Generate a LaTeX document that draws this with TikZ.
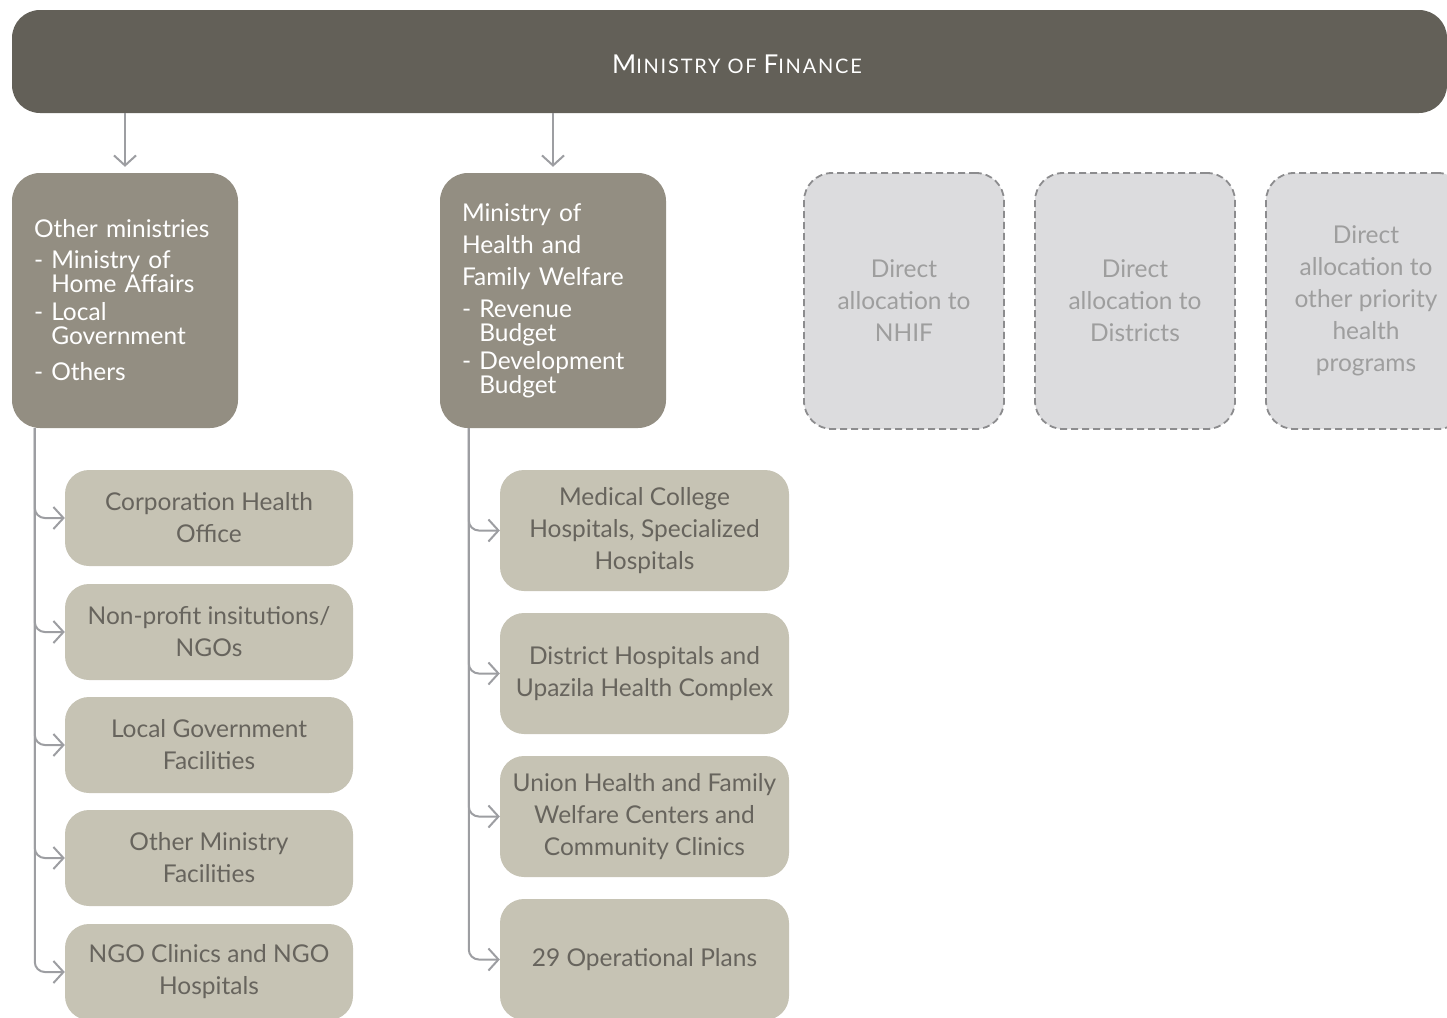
\documentclass[tikz,border=0pt]{standalone}
\usepackage{fontspec}
\setmainfont{Lato}
\newfontfamily\titlefont{Lato}[LetterSpace=9]
\usetikzlibrary{arrows.meta}

\definecolor{barcol}{HTML}{636058}
\definecolor{midcol}{HTML}{938E82}
\definecolor{leafcol}{HTML}{C6C3B4}
\definecolor{leaftext}{HTML}{67645D}
\definecolor{linecol}{HTML}{9D9EA2}
\definecolor{dashfill}{HTML}{DCDCDE}
\definecolor{dashline}{HTML}{8C8C8E}
\definecolor{dashtext}{HTML}{9E9E9E}

\newcommand{\hang}{\phantom{- }}

\tikzset{
  finance/.style={fill=barcol, text=white, rounded corners=28pt, minimum width=1435pt, minimum height=103pt, inner sep=0pt},
  ministry/.style={fill=midcol, text=white, rounded corners=28pt, minimum width=226pt, minimum height=255pt, text width=182pt, align=left, inner sep=0pt, font=\fontsize{24.5}{24}\selectfont},
  facility/.style={fill=leafcol, text=leaftext, rounded corners=24pt, inner sep=0pt, align=center, font=\fontsize{24.5}{32}\selectfont},
  direct/.style={fill=dashfill, draw=dashline, line width=1.8pt, dash pattern=on 7pt off 4pt, rounded corners=28pt, minimum width=200pt, minimum height=256pt, inner sep=0pt, align=center, text=dashtext, font=\fontsize{24.5}{32}\selectfont},
  flow/.style={draw=linecol, line width=2pt, -{Straight Barb[length=10pt,width=22pt,line width=2pt]}},
}

\begin{document}
\begin{tikzpicture}[x=1pt, y=-1pt]
\useasboundingbox (0,0) rectangle (1447,1017);

% top level
\node[finance] (mof) at (729.5,61.5) {\raisebox{-12pt}[0pt][0pt]{\hspace*{15pt}\titlefont{\fontsize{26}{26}\selectfont M}{\fontsize{20}{20}\selectfont INISTRY OF }{\fontsize{26}{26}\selectfont F}{\fontsize{20}{20}\selectfont INANCE}}};

% ministries
\node[ministry] (othmin) at (125,300.5) {Other ministries\\[7pt]
- Ministry of\\ \hang Home Affairs\\[4pt]
- Local\\ \hang Government\\[12pt]
- Others};
\node[ministry] (mohfw) at (553,300.5) {Ministry of\\[8pt] Health and\\[8pt] Family Welfare\\[8pt]
- Revenue\\ \hang Budget\\[4pt]
- Development\\ \hang Budget};

% direct allocations
\node[direct] (nhif) at (904,301) {Direct\\allocation to\\NHIF};
\node[direct] (dist) at (1135,301) {Direct\\allocation to\\Districts};
\node[direct] (prio) at (1366,301) {Direct\\allocation to\\other priority\\health\\programs};

% facilities under other ministries
\node[facility, minimum width=288pt, minimum height=96pt] (corp) at (209,518) {Corporation Health\\Office};
\node[facility, minimum width=288pt, minimum height=96pt] (ngo) at (209,632) {Non-profit insitutions/\\NGOs};
\node[facility, minimum width=288pt, minimum height=96pt] (lgf) at (209,745) {Local Government\\Facilities};
\node[facility, minimum width=288pt, minimum height=96pt] (omf) at (209,858) {Other Ministry\\Facilities};
\node[facility, minimum width=288pt, minimum height=96pt] (ngoh) at (209,972) {NGO Clinics and NGO\\Hospitals};

% facilities under MOHFW
\node[facility, minimum width=289pt, minimum height=121pt] (mch) at (644.5,530.5) {Medical College\\Hospitals, Specialized\\Hospitals};
\node[facility, minimum width=289pt, minimum height=121pt] (dh) at (644.5,673.5) {District Hospitals and\\Upazila Health Complex};
\node[facility, minimum width=289pt, minimum height=121pt] (uh) at (644.5,816.5) {Union Health and Family\\Welfare Centers and\\Community Clinics};
\node[facility, minimum width=289pt, minimum height=121pt] (op) at (644.5,959.5) {29 Operational Plans};

% connectors
\draw[flow, shorten >=6pt] (mof.south -| othmin) -- (othmin.north);
\draw[flow, shorten >=6pt] (mof.south -| mohfw) -- (mohfw.north);
\foreach \n in {corp,ngo,lgf,omf,ngoh}
  \draw[flow, rounded corners=10pt] ([xshift=23pt]othmin.south west) |- (\n.west);
\foreach \n in {mch,dh,uh,op}
  \draw[flow, rounded corners=10pt] ([xshift=29pt]mohfw.south west) |- (\n.west);
\end{tikzpicture}
\end{document}
